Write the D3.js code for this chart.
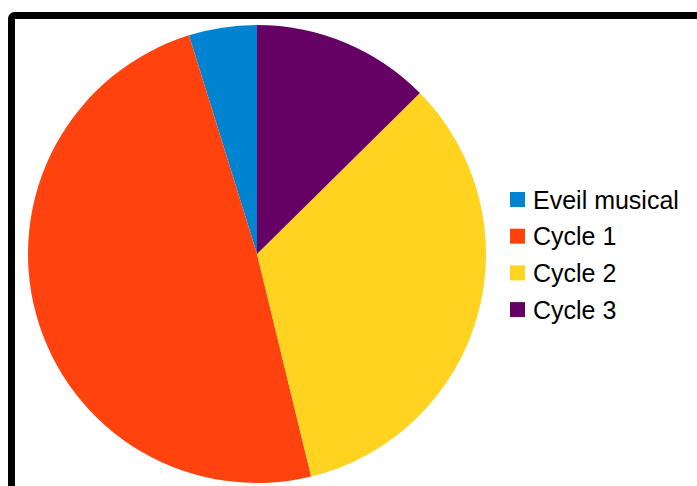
<!DOCTYPE html>
<html>
<head>
<meta charset="utf-8">
<script src="https://cdn.jsdelivr.net/npm/d3@7.9.0/dist/d3.min.js"></script>
<style>
  html, body { margin: 0; padding: 0; background: #fff; }
  svg { display: block; }
</style>
</head>
<body>
<div id="chart"></div>
<script>
// Chart data (share of each level, %)
const categories = ['Eveil musical', 'Cycle 1', 'Cycle 2', 'Cycle 3'];
const values = [4.8, 49.0, 33.6, 12.6];
const colors = ['#0084d1', '#ff420e', '#ffd320', '#650065'];

const width = 697;
const height = 486;

const svg = d3.select('#chart')
  .append('svg')
  .attr('width', width)
  .attr('height', height);

// Frame around the chart (runs off the right and bottom edges)
svg.append('rect')
  .attr('x', 11.5)
  .attr('y', 15.5)
  .attr('width', 800)
  .attr('height', 600)
  .attr('rx', 3)
  .attr('fill', 'none')
  .attr('stroke', '#000')
  .attr('stroke-width', 7);

// Pie: starts at 12 o'clock and runs counter-clockwise
const cx = 257, cy = 254, radius = 229;

const pie = d3.pie()
  .sort(null)
  .value(d => d.value)
  .startAngle(0)
  .endAngle(-2 * Math.PI);

const arc = d3.arc().innerRadius(0).outerRadius(radius);

const data = categories.map((c, i) => ({ name: c, value: values[i], color: colors[i] }));

svg.append('g')
  .attr('transform', `translate(${cx},${cy})`)
  .selectAll('path')
  .data(pie(data))
  .join('path')
  .attr('d', arc)
  .attr('fill', d => d.data.color);

// Legend
const legend = svg.append('g').attr('transform', 'translate(510,192)');

const item = legend.selectAll('g')
  .data(data)
  .join('g')
  .attr('transform', (d, i) => `translate(0,${i * 36.7})`);

item.append('rect')
  .attr('width', 15)
  .attr('height', 15)
  .attr('fill', d => d.color);

item.append('text')
  .attr('x', 23)
  .attr('y', 16.5)
  .attr('font-family', '"Liberation Sans", Arial, sans-serif')
  .attr('font-size', 25)
  .attr('fill', '#000')
  .text(d => d.name);
</script>
</body>
</html>
